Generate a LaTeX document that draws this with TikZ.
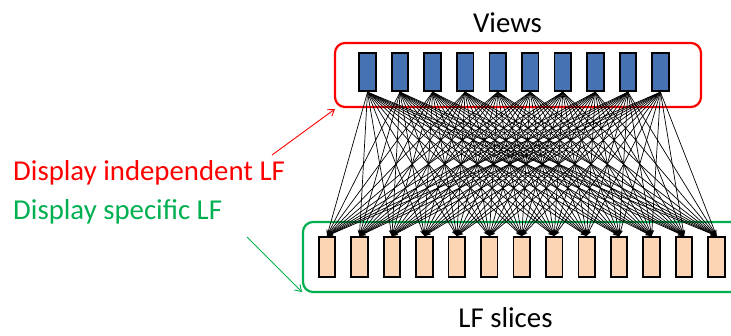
\documentclass[tikz,border=0pt]{standalone}
\usepackage{fontspec}
\setmainfont{Carlito}
\usetikzlibrary{arrows.meta}
\definecolor{viewblue}{RGB}{68,114,178}
\definecolor{slicepeach}{RGB}{252,213,181}
\definecolor{offgreen}{RGB}{0,176,80}
\definecolor{offred}{RGB}{255,0,0}
\begin{document}
\begin{tikzpicture}[x=1pt,y=-1pt,
  viewbox/.style={draw=black,line width=1.8pt,fill=viewblue,minimum width=16.5pt,minimum height=38.5pt,inner sep=0pt},
  slicebox/.style={draw=black,line width=1.8pt,fill=slicepeach,minimum width=16.5pt,minimum height=40.5pt,inner sep=0pt},
  frame/.style={rounded corners=10pt,line width=2.2pt,inner sep=0pt},
  link/.style={black,line width=0.7pt,-{Stealth[length=6pt,width=4.5pt]}},
  lbl/.style={font=\fontsize{28.8}{34}\selectfont,inner sep=0pt},
  pointer/.style={line width=0.9pt,-{Straight Barb[length=6pt,width=8pt]}}]
\useasboundingbox (0,0) rectangle (731,335);
\begin{scope}
\clip (0,0) rectangle (731,335);
% frames
\node[frame,draw=offred,minimum width=366pt,minimum height=64pt] (viewsframe) at (518,75) {};
\node[frame,draw=offgreen,minimum width=442pt,minimum height=70pt] (slicesframe) at (524,257) {};
% boxes
\foreach \i in {1,...,10}{
  \node[viewbox] (t\i) at ({367.5+32.55*(\i-1)},72) {};
}
\foreach \j in {1,...,13}{
  \node[slicebox] (b\j) at ({327+32.46*(\j-1)},257) {};
}
% links
\foreach \i in {1,...,10}{
  \foreach \j in {1,...,13}{
    \draw[link] (t\i.south) -- (b\j.north);
  }
}
\end{scope}
% labels
\node[lbl,anchor=base] (viewslbl) at (507.5,32) {Views};
\node[lbl,anchor=base] (sliceslbl) at (505.5,327) {LF slices};
\node[lbl,anchor=base west,text=offred] (indep) at (13,180) {Display independent LF};
\node[lbl,anchor=base west,text=offgreen] (spec) at (13,219) {Display specific LF};
% pointers
\coordinate (rstart) at (272,155);
\coordinate (rend) at (335,109);
\coordinate (gstart) at (247,237);
\coordinate (gend) at (302,292);
\draw[pointer,draw=offred] (rstart) -- (rend);
\draw[pointer,draw=offgreen] (gstart) -- (gend);
\end{tikzpicture}
\end{document}
